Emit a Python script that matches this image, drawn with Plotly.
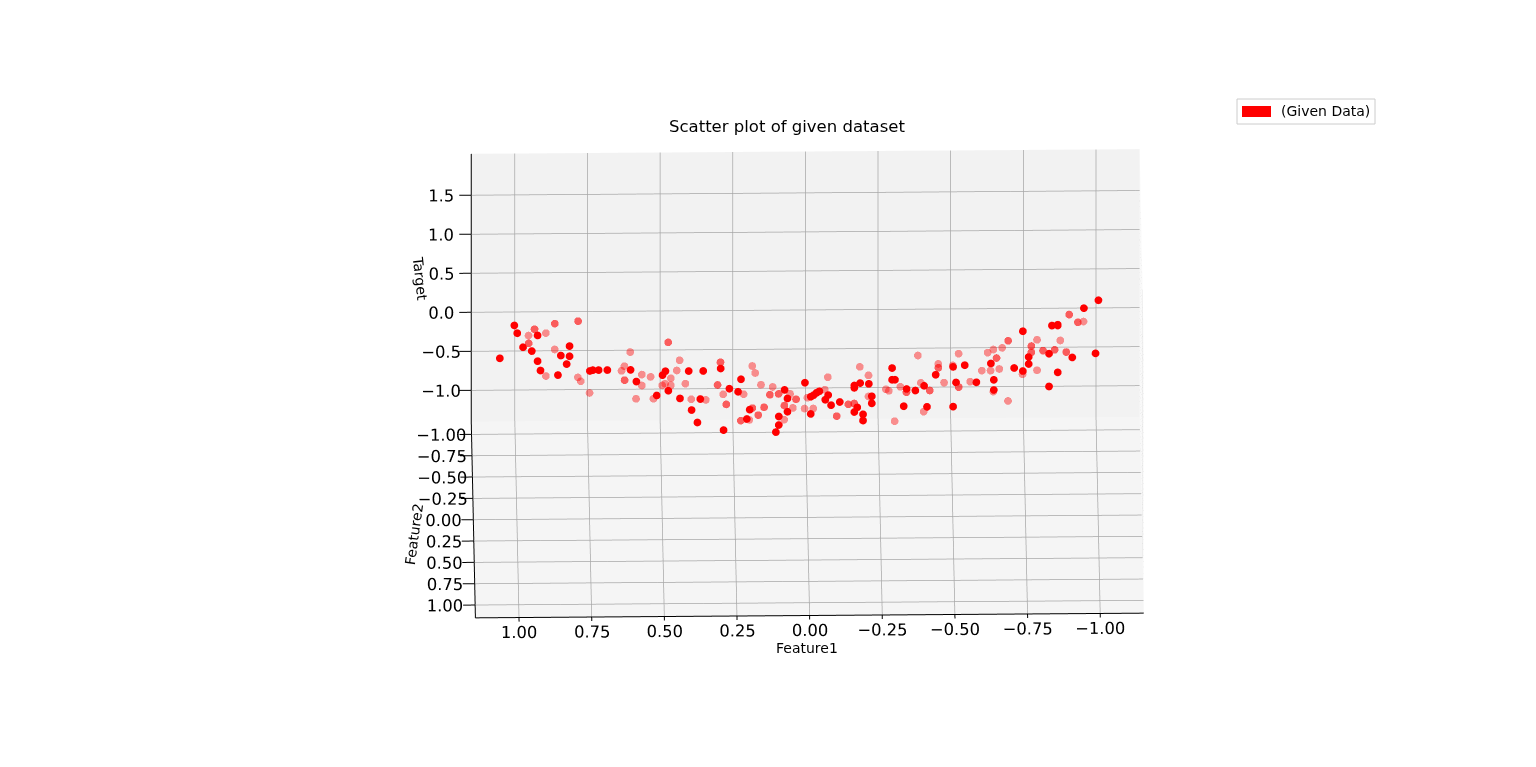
import math
import plotly.graph_objects as go

# Values: opaque (near), medium and pale (far) points
feature1_near = [1.01,1.00,.93,.98,.95,1.06,.93,.92,.82,.85,.82,.83,.86,.75,.74,.72,.69,.61,.59,.50,.49,.41,.36,.48,.52,.44,.37,.40,.38,.30,.23,.27,.24,.20,.21,.29,.08,.07,.07,.10,.10,.11,.01,-.01,-.02,-.03,-.04,-.07,-.06,-.08,-.11,-.01,-.16,-.16,-.18,-.21,-.22,-.22,-.17,-.16,-.19,-.19,-.29,-.29,-.30,-.34,-.33,-1.00,-.95,-.84,-.86,-.86,-.74,-.99,-.91,-.83,-.86,-.83,-.76,-.76,-.74,-.71,-.63,-.54,-.50,-.44,-.51,-.58,-.64,-.64,-.50,-.41,-.37,-.40]
target_near = [1.24,1.14,1.11,.96,.91,.82,.78,.66,.97,.85,.84,.74,.60,.65,.66,.66,.66,.66,.51,.59,.64,.64,.64,.39,.33,.29,.28,.14,-.02,.67,.53,.41,.37,.14,.02,-.12,.39,.28,.11,.05,-.06,-.15,.48,.30,.32,.35,.37,.32,.26,.19,.23,.08,.44,.41,.47,.46,.30,.21,.16,.10,.07,-.01,.66,.51,.51,.39,.17,1.51,1.41,1.19,1.20,1.19,1.12,.83,.78,.83,.59,.41,.70,.79,.61,.65,.71,.69,.67,.57,.47,.47,.50,.37,.16,.16,.37,.43]
feature2_near = [.14,.14,.14,.14,.14,.14,.14,.14,.14,.14,.14,.14,.14,.14,.14,.14,.14,.14,.14,.14,.14,.14,.14,.14,.14,.14,.14,.14,.14,.14,.14,.14,.14,.14,.14,.14,.14,.14,.14,.14,.14,.14,.14,.14,.14,.14,.14,.14,.14,.14,.14,.14,.14,.14,.14,.14,.14,.14,.14,.14,.14,.14,.14,.14,.14,.14,.14,.14,.14,.14,.14,.14,.14,.14,.14,.14,.14,.14,.14,.14,.14,.14,.14,.14,.14,.14,.14,.14,.14,.14,.14,.14,.14,.14]

feature1_mid = [.79,.87,.94,.96,.63,.48,.30,.31,.28,.19,.17,.15,.23,.13,.10,.04,.08,-.10,-.14,-.16,-.90,-.93,-.69,-.81,-.85,-.89,-.77,-.77,-.65,-.45,-.52,-.42,-.34]
target_mid = [1.18,1.15,1.08,.90,.42,.90,.64,.35,.10,.05,-.04,.06,-.11,.22,.23,.16,.08,-.06,.09,.10,1.22,1.12,.89,.76,.77,.74,.74,.82,.67,.55,.30,.26,.24]
feature2_mid = [.04,.04,.04,.04,.04,.04,.04,.04,.04,.04,.04,.04,.04,.04,.04,.04,.04,.04,.04,.04,.04,.04,.04,.04,.04,.04,.04,.04,.04,.04,.04,.04,.04]

feature1_far = [.96,.90,.87,.90,.79,.78,.75,.61,.63,.64,.57,.54,.57,.59,.53,.44,.45,.47,.49,.50,.47,.42,.40,.35,.29,.22,.19,.18,.16,.12,.20,.06,.05,.08,.01,.00,-.02,-.06,-.07,-.18,-.21,-.21,-.27,-.28,-.30,-.32,-.95,-.87,-.79,-.67,-.64,-.62,-.52,-.38,-.45,-.50,-.60,-.63,-.66,-.79,-.74,-.47,-.56,-.39,-.64,-.69,-.40]
target_far = [.89,.92,.71,.37,.35,.30,.15,.67,.49,.43,.38,.35,.24,.07,.07,.56,.43,.33,.26,.24,.24,.26,.06,.05,.12,.12,.48,.39,.24,.21,-.21,.12,-.06,-.21,-.07,.07,-.07,.17,.33,.46,.35,.08,.17,.15,-.24,.20,1.02,.78,.79,.69,.67,.63,.62,.60,.49,.47,.40,.40,.42,.40,.35,.25,.26,.25,.13,.01,-.12]
feature2_far = [-.06,-.06,-.06,-.06,-.06,-.06,-.06,-.06,-.06,-.06,-.06,-.06,-.06,-.06,-.06,-.06,-.06,-.06,-.06,-.06,-.06,-.06,-.06,-.06,-.06,-.06,-.06,-.06,-.06,-.06,-.06,-.06,-.06,-.06,-.06,-.06,-.06,-.06,-.06,-.06,-.06,-.06,-.06,-.06,-.06,-.06,-.06,-.06,-.06,-.06,-.06,-.06,-.06,-.06,-.06,-.06,-.06,-.06,-.06,-.06,-.06,-.06,-.06,-.06,-.06,-.06,-.06]

feature_ticks = [-1.0,-0.75,-0.5,-0.25,0.0,0.25,0.5,0.75,1.0]
feature_labels = ["\u22121.00","\u22120.75","\u22120.50","\u22120.25","0.00","0.25","0.50","0.75","1.00"]
target_ticks = [-1.0,-0.5,0.0,0.5,1.0,1.5]
target_labels = ["\u22121.0","\u22120.5","0.0","0.5","1.0","1.5"]

FONT = "DejaVu Sans"
W, H, M = 1520, 751, 8
ELEV, AZIM, R = math.radians(35), math.radians(0.7), 1.155
S = 1.78

fig = go.Figure()
for xs, ys, zs, op in [(feature1_far, feature2_far, target_far, 0.42),
                       (feature1_mid, feature2_mid, target_mid, 0.62),
                       (feature1_near, feature2_near, target_near, 1.0)]:
    fig.add_trace(go.Scatter3d(x=xs, y=ys, z=zs, mode="markers", showlegend=False,
                               marker=dict(size=4.5, color="#ff0000", opacity=op, line=dict(width=0))))

def axis(rng, tv, tt, bg, ticklen):
    return dict(range=rng, tickvals=tv, ticktext=tt, title=dict(text=""), tickangle=0,
                showbackground=True, backgroundcolor=bg, gridcolor="#a8a8a8", gridwidth=1.5,
                showline=True, linecolor="#000000", linewidth=2, zeroline=False,
                ticks="outside", ticklen=ticklen, tickcolor="#000000", tickwidth=2,
                tickfont=dict(family=FONT, size=14, color="#000000"), showspikes=False)

def fx(px): return (px - M) / W
def fy(py): return 1 - (py - M) / H

fig.update_layout(
    width=W, height=H, margin=dict(l=0, r=0, t=0, b=0), paper_bgcolor="#ffffff",
    showlegend=False,
    scene=dict(
        domain=dict(x=[0.0521, 1.0], y=[0.0, 1.0]),
        aspectmode="manual", aspectratio=dict(x=1.0*S, y=0.512*S, z=0.489*S),
        xaxis=axis([-1.15, 1.15], feature_ticks, feature_labels, "#f9f9f9", 12),
        yaxis=axis([-1.15, 1.15], feature_ticks, feature_labels, "#f2f2f2", 7),
        zaxis=axis([-1.4, 2.03], target_ticks, target_labels, "#f5f5f5", 7),
        camera=dict(projection=dict(type="orthographic"),
                    center=dict(x=0, y=0, z=0), up=dict(x=0, y=0, z=1),
                    eye=dict(x=R*math.cos(ELEV)*math.sin(AZIM), y=R*math.cos(ELEV)*math.cos(AZIM), z=R*math.sin(ELEV))),
    ),
    shapes=[
        dict(type="rect", xref="paper", yref="paper", x0=fx(1237), x1=fx(1375), y0=fy(124), y1=fy(99),
             line=dict(color="#cccccc", width=1), fillcolor="#ffffff"),
        dict(type="rect", xref="paper", yref="paper", x0=fx(1242), x1=fx(1271), y0=fy(117), y1=fy(106),
             line=dict(width=0), fillcolor="#ff0000"),
    ],
)
def note(text, px, py, size, angle=0, xanchor="center"):
    fig.add_annotation(text=text, xref="paper", yref="paper", x=fx(px), y=fy(py), showarrow=False,
                       font=dict(family=FONT, size=size, color="#000000"), textangle=angle,
                       xanchor=xanchor, yanchor="middle")
note("Scatter plot of given dataset", 787, 126, 16.5)
note("(Given Data)", 1279, 111, 14, xanchor="left")
note("Feature1", 807, 648, 14)
note("Feature2", 414, 534, 14, angle=-82)
note("Target", 420, 278, 14, angle=84)
fig.write_html("out.html")
